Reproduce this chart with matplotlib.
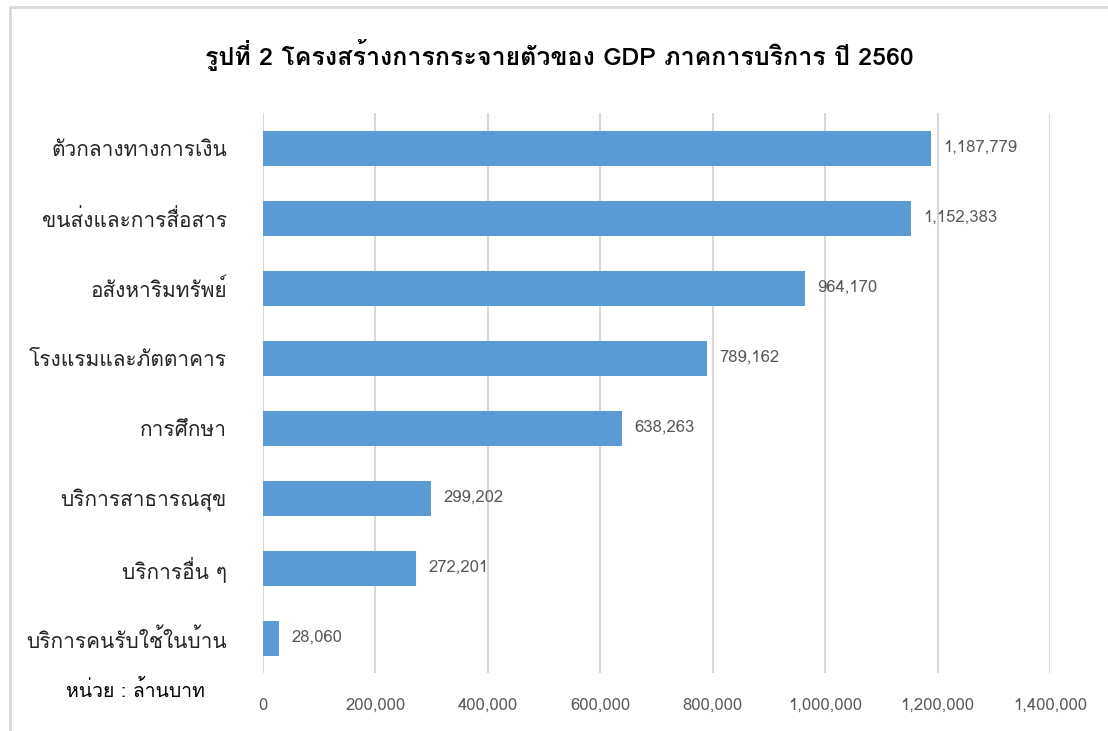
import numpy as np
import matplotlib
matplotlib.use("Agg")
from matplotlib import pyplot as plt
from matplotlib import font_manager
from matplotlib.ft2font import FT2Font

# data, top to bottom as in the picture
categories = ["ตัวกลางทางการเงิน", "ขนส่งและการสื่อสาร", "อสังหาริมทรัพย์",
              "โรงแรมและภัตตาคาร", "การศึกษา", "บริการสาธารณสุข",
              "บริการอื่น ๆ", "บริการคนรับใช้ในบ้าน"]
values = [1187779, 1152383, 964170, 789162, 638263, 299202, 272201, 28060]
xticks = [0, 200000, 400000, 600000, 800000, 1000000, 1200000, 1400000]

title = "รูปที่ 2 โครงสร้างการกระจายตัวของ GDP ภาคการบริการ ปี 2560"
unit_note = "หน่วย : ล้านบาท"

# find installed fonts that have Thai glyphs
thai_fonts = []
for f in font_manager.fontManager.ttflist:
    try:
        cmap = FT2Font(f.fname).get_charmap()
    except Exception:
        continue
    if 0x0E01 in cmap and 0x0E31 in cmap:
        if f.name not in thai_fonts:
            thai_fonts.append(f.name)

plt.rcParams['font.family'] = thai_fonts + ['DejaVu Sans']

bar_color = "#5b9bd5"
grid_color = "#d9d9d9"
text_color = "#595959"

fig = plt.figure(figsize=(11.08, 7.31), dpi=100)
ax = fig.add_axes([0.2374, 0.0793, 0.7103, 0.766])

y = np.arange(len(categories))
ax.barh(y, values, height=0.5, color=bar_color, zorder=3)
ax.set_ylim(len(categories) - 0.5, -0.5)
ax.set_xlim(0, 1400000)

ax.set_xticks(xticks)
ax.set_xticklabels(["{:,}".format(v) for v in xticks])
ax.set_yticks(y)
ax.set_yticklabels(categories)

ax.tick_params(axis="x", length=0, pad=18, labelsize=12, labelcolor=text_color)
ax.tick_params(axis="y", length=0, pad=26, labelsize=15, labelcolor="#262626")

ax.grid(axis="x", color=grid_color, linewidth=1.5, zorder=0)
for s in ax.spines.values():
    s.set_visible(False)

for yi, v in zip(y, values):
    ax.text(v + 22000, yi, "{:,}".format(v), va="center", ha="left",
            fontsize=12, color=text_color, zorder=4)

fig.text(0.505, 0.925, title, ha="center", va="center", fontsize=18,
         fontweight="bold", color="#000000")
fig.text(0.06, 0.056, unit_note, ha="left", va="center", fontsize=14,
         fontweight="normal", color="#000000")

# light frame round the chart
frame = plt.Rectangle((0.009, -0.01), 1.2, 1.0, transform=fig.transFigure,
                      fill=False, edgecolor="#d9d9d9", linewidth=2)
fig.add_artist(frame)

fig.savefig("out.png", dpi=100)
